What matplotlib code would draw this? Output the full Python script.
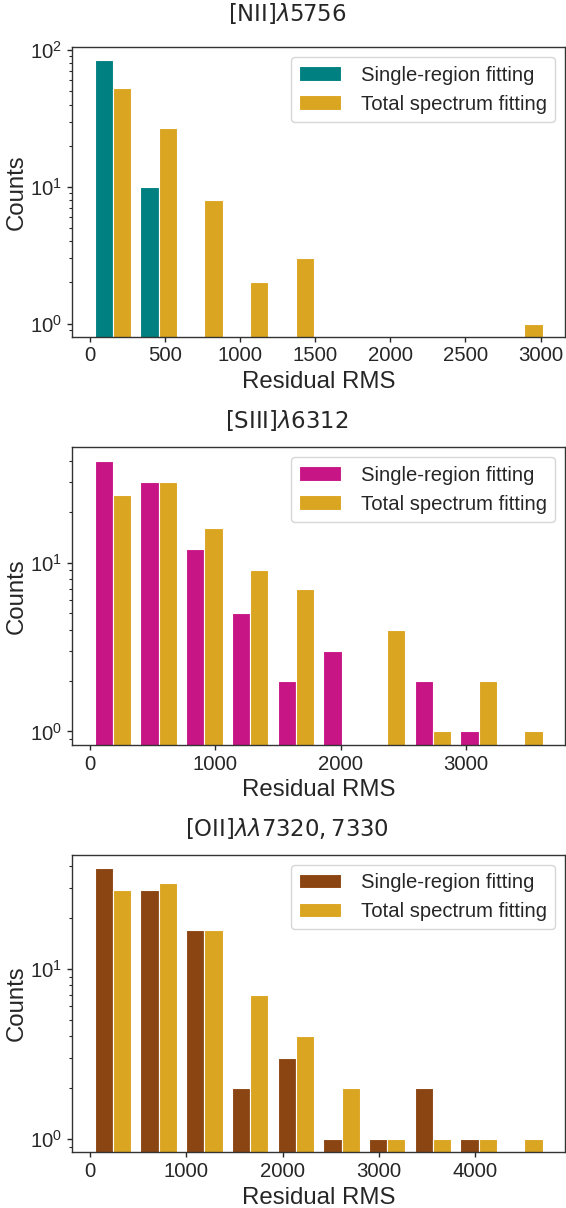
import numpy as np
import matplotlib
matplotlib.use('Agg')
import matplotlib.pyplot as plt
from matplotlib.ticker import MultipleLocator


# Counts in 10 equal-width bins of residual RMS, starting at 0
nii_single = [84, 10, 0, 0, 0, 0, 0, 0, 0, 0]
nii_total = [53, 27, 8, 2, 3, 0, 0, 0, 0, 1]
siii_single = [40, 30, 12, 5, 2, 3, 0, 2, 1, 0]
siii_total = [25, 30, 16, 9, 7, 0, 4, 1, 2, 1]
oii_single = [39, 29, 17, 2, 3, 1, 1, 2, 1, 0]
oii_total = [29, 32, 17, 7, 4, 2, 1, 1, 1, 1]

# Upper edge of the residual RMS range for each line
nii_max = 3044
siii_max = 3647
oii_max = 4749

titles = [r'[NII]$\lambda5756$', r'[SIII]$\lambda6312$', r'[OII]$\lambda\lambda7320, 7330$']
single_colors = ['teal', 'mediumvioletred', 'saddlebrown']
total_color = 'goldenrod'
legend_labels = ['Single-region fitting', 'Total spectrum fitting']
x_steps = [500, 1000, 1000]

text_color = '#262626'
plt.rcParams['font.family'] = ['Liberation Sans', 'DejaVu Sans']
plt.rcParams['text.color'] = text_color
plt.rcParams['axes.labelcolor'] = text_color
plt.rcParams['xtick.color'] = text_color
plt.rcParams['ytick.color'] = text_color
plt.rcParams['axes.edgecolor'] = '0.2'

W, H = 566, 1208
fig = plt.figure(figsize=(W / 100, H / 100), dpi=100)

# axes boxes in pixels: (top, bottom), and title baselines
boxes = [(47.3, 336.7), (447.3, 745.0), (854.7, 1152.3)]
title_base = [20.7, 428.3, 836.0]
left_px, right_px = 72.3, 565.0

panels = [(nii_single, nii_total, nii_max),
          (siii_single, siii_total, siii_max),
          (oii_single, oii_total, oii_max)]

for i, (single, total, xmax) in enumerate(panels):
    top, bot = boxes[i]
    ax = fig.add_axes([left_px / W, 1 - bot / H, (right_px - left_px) / W, (bot - top) / H])

    edges = np.linspace(0, xmax, len(single) + 1)
    centers = 0.5 * (edges[:-1] + edges[1:])
    ax.hist([centers, centers], bins=edges, weights=[single, total],
            color=[single_colors[i], total_color], label=legend_labels,
            edgecolor='white', linewidth=0.8, log=True)

    ax.xaxis.set_major_locator(MultipleLocator(x_steps[i]))
    ax.tick_params(axis='both', which='major', labelsize=14.7, length=3.5, width=1)
    ax.tick_params(axis='y', which='minor', length=2.4, width=0.8)
    for sp in ax.spines.values():
        sp.set_linewidth(1.0)
    ax.set_xlabel('Residual RMS', fontsize=17.3)
    ax.set_ylabel('Counts', fontsize=17.3, labelpad=2)
    ax.legend(loc='upper right', fontsize=14.6, handlelength=2.1, handletextpad=0.95)

    fig.text(287 / W, 1 - title_base[i] / H, titles[i], ha='center', va='baseline',
             fontsize=16.4, family='DejaVu Sans')

fig.savefig('out.png', dpi=100)
